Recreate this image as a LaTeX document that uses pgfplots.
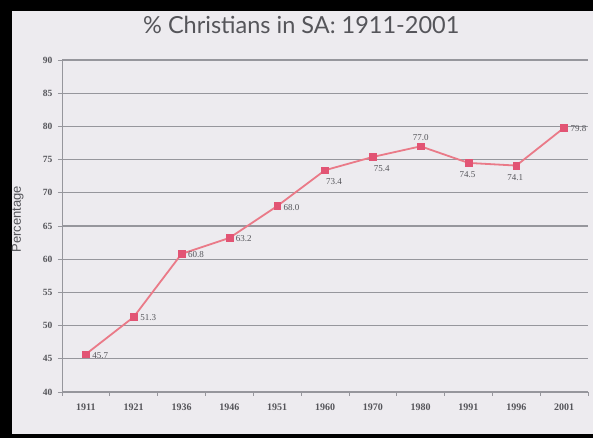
\documentclass[border=0pt]{standalone}
\usepackage{pgfplots}
\pgfplotsset{compat=1.18}
\usepackage{fontspec}
\setmainfont{Liberation Serif}
\newfontfamily\titlefont{Lato}
\newfontfamily\labfont{Liberation Sans}
\definecolor{panel}{RGB}{237,235,239}
\definecolor{gridc}{RGB}{150,150,156}
\definecolor{linec}{RGB}{234,122,136}
\definecolor{markc}{RGB}{226,84,116}
\definecolor{txt}{RGB}{85,85,90}
\pgfplotstableread{
x y
0 45.7
1 51.3
2 60.8
3 63.2
4 68.0
5 73.4
6 75.4
7 77.0
8 74.5
9 74.1
10 79.8
}\datamain
\pgfplotstableread{
x y
0 45.7
1 51.3
2 60.8
3 63.2
4 68.0
10 79.8
}\dataright
\pgfplotstableread{
x y
5 73.4
6 75.4
}\databelowright
\pgfplotstableread{
x y
8 74.5
9 74.1
}\databelow
\pgfplotstableread{
x y
7 77.0
}\dataabove
\begin{document}
\begin{tikzpicture}[x=1pt,y=1pt]
\fill[black] (-62,-46) rectangle (531,392);
\fill[panel] (-50,-42) rectangle (531,381);
\begin{axis}[
  at={(0,0)}, anchor=south west,
  scale only axis, width=526pt, height=332pt,
  xmin=-0.5, xmax=10.5, ymin=40, ymax=90,
  xtick=data,
  xticklabels={1911,1921,1936,1946,1951,1960,1970,1980,1991,1996,2001},
  minor xtick={-0.5,0.5,...,10.5},
  ytick={40,45,...,90},
  axis lines=left,
  axis line style={draw=gridc, line width=1pt, -},
  ymajorgrids,
  grid style={draw=gridc, line width=1.1pt},
  major x tick style={draw=none},
  minor x tick style={draw=gridc, line width=0.8pt},
  minor tick length=4pt,
  y tick style={draw=gridc, line width=0.8pt},
  major tick length=4pt,
  tick align=outside,
  /pgf/number format/assume math mode=true,
  yticklabel style={font=\fontsize{9.5}{10}\selectfont\bfseries, text=txt, xshift=-2pt},
  xticklabel style={font=\fontsize{10}{11}\selectfont\bfseries, text=txt, yshift=-4pt},
  ylabel={Percentage},
  ylabel style={font=\labfont\fontsize{13}{14}\selectfont, text=txt, at={(axis description cs:-0.084,0.52)}, anchor=center},
  title={\% Christians in SA: 1911-2001},
  title style={font=\titlefont\fontsize{23.5}{26}\selectfont, text=txt, at={(axis description cs:0.455,1)}, anchor=center, yshift=29pt},
  clip=false,
]
\addplot[color=linec, line width=1.8pt, mark=square*, mark size=3.4pt,
  mark options={fill=markc, draw=markc, line width=0.5pt}] table[x=x,y=y] {\datamain};
\addplot[draw=none, mark=none, nodes near coords, point meta=explicit symbolic,
  every node near coord/.append style={font=\fontsize{9}{10}\selectfont, text=txt, anchor=west, xshift=3pt, yshift=-1pt}]
  table[x=x,y=y,meta=y] {\dataright};
\addplot[draw=none, mark=none, nodes near coords, point meta=explicit symbolic,
  every node near coord/.append style={font=\fontsize{9}{10}\selectfont, text=txt, anchor=north, xshift=9pt, yshift=-5pt}]
  table[x=x,y=y,meta=y] {\databelowright};
\addplot[draw=none, mark=none, nodes near coords, point meta=explicit symbolic,
  every node near coord/.append style={font=\fontsize{9}{10}\selectfont, text=txt, anchor=north, xshift=-1pt, yshift=-5pt}]
  table[x=x,y=y,meta=y] {\databelow};
\addplot[draw=none, mark=none, nodes near coords, point meta=explicit symbolic,
  every node near coord/.append style={font=\fontsize{9}{10}\selectfont, text=txt, anchor=south, yshift=2pt}]
  table[x=x,y=y,meta=y] {\dataabove};
\end{axis}
\end{tikzpicture}
\end{document}
